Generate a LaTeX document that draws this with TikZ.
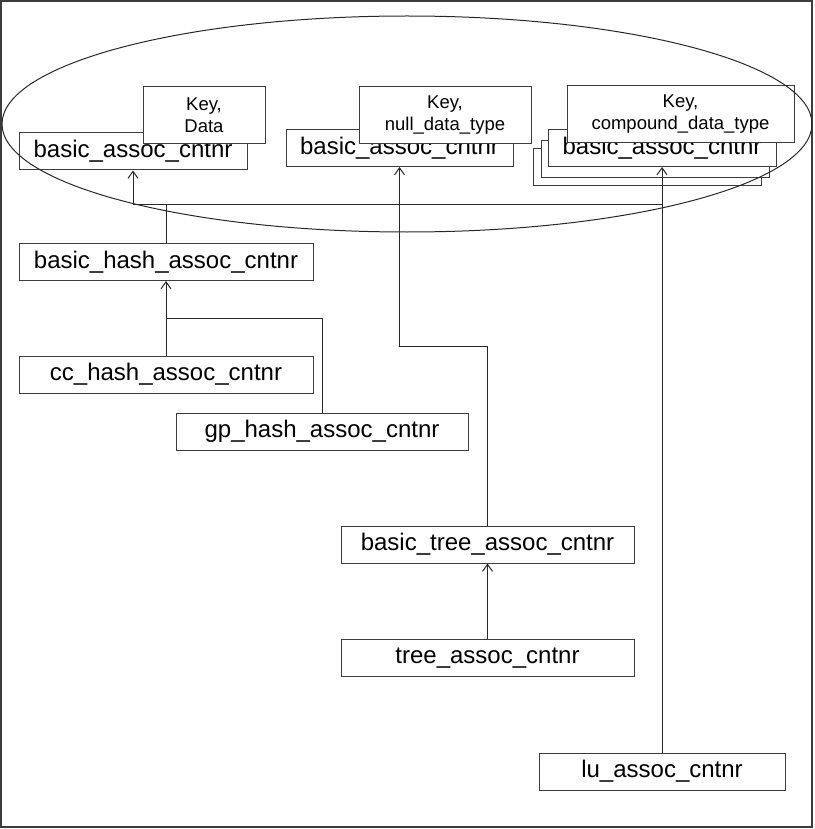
\documentclass[tikz,border=0pt]{standalone}
\usepackage{fontspec}
\setmainfont{Liberation Sans}
\usetikzlibrary{arrows.meta}
\usepackage{xcolor}
\definecolor{boxbord}{RGB}{60,60,60}
\definecolor{linkcol}{RGB}{40,40,40}

\begin{document}
\begin{tikzpicture}[x=1pt, y=-1pt,
  link/.style={draw=linkcol, line width=1pt, -{Straight Barb[length=7pt,width=10pt]}},
  wire/.style={draw=linkcol, line width=1pt}
]

\useasboundingbox (0,0) rectangle (814,829);

%% ── Frame ────────────────────────────────────────────────────────────────────
\draw[boxbord, line width=1.6pt] (1,1) rectangle (812,827);

%% ── Class boxes ──────────────────────────────────────────────────────────────
\begin{scope}[
  every node/.style={
    draw=boxbord, fill=white, line width=1pt, inner sep=0pt,
    minimum height=37pt, font=\fontsize{24}{28}\selectfont
  },
  keybox/.style={
    minimum height=57pt, align=center,
    font=\fontsize{18.5}{22}\selectfont
  }
]
  % plain basic_assoc_cntnr
  \node[minimum width=228pt] (b1) at (133,151.5) {basic\_assoc\_cntnr};
  \node[keybox, minimum width=122pt] (k1) at (204,115.5) {Key,\\Data};

  % basic_assoc_cntnr with null data
  \node[minimum width=227pt] (b2) at (399.5,148) {basic\_assoc\_cntnr};
  \node[keybox, minimum width=172pt] (k2) at (445,115.5) {Key,\\null\_data\_type};

  % stacked basic_assoc_cntnr with compound data
  \node[minimum width=228pt] (b3c) at (647,167) {};
  \node[minimum width=228pt] (b3b) at (655,159) {};
  \node[minimum width=228pt] (b3) at (662,148) {basic\_assoc\_cntnr};
  \node[keybox, minimum width=227pt] (k3) at (680.5,114.5) {Key,\\compound\_data\_type};

  \node[minimum width=294pt] (hash) at (166,262)   {basic\_hash\_assoc\_cntnr};
  \node[minimum width=294pt] (cc)   at (166,374.5) {cc\_hash\_assoc\_cntnr};
  \node[minimum width=292pt] (gp)   at (322,431.5) {gp\_hash\_assoc\_cntnr};
  \node[minimum width=293pt] (bt)   at (487.5,544.5) {basic\_tree\_assoc\_cntnr};
  \node[minimum width=293pt] (tree) at (487.5,658) {tree\_assoc\_cntnr};
  \node[minimum width=246pt] (lu)   at (662,771.5) {lu\_assoc\_cntnr};
\end{scope}

%% ── Inheritance links ────────────────────────────────────────────────────────
\coordinate (hb) at (166,204);
\coordinate (hj) at (166,318);
\coordinate (tj) at (399.5,346);

\draw[wire] (hash.north) -- (hb);
\draw[link] (hb) -| (b1.south);
\draw[wire] (hb) -- (hb -| lu.north);

\draw[link] (cc.north) -- (hash.south);
\draw[wire] (gp.north) |- (hj);

\draw[link] (tree.north) -- (bt.south);
\draw[link] (bt.north) |- (tj) -- (b2.south);

\draw[link] (lu.north) -- (b3.south);

%% ── Grouping ellipse ─────────────────────────────────────────────────────────
\draw[linkcol, line width=1pt] (407,124) ellipse [x radius=405, y radius=108];

\end{tikzpicture}
\end{document}
